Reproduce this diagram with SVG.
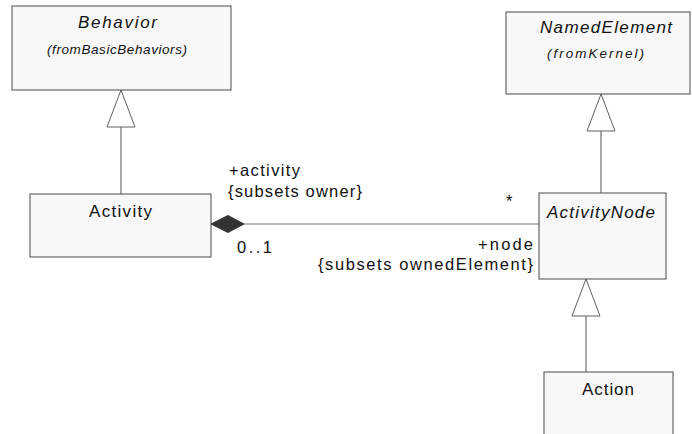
<svg xmlns="http://www.w3.org/2000/svg" width="692" height="434" viewBox="0 0 692 434">
<style>
.box{fill:#f8f8f8;stroke:#4a4a4a;stroke-width:1}
.ln{stroke:#707070;stroke-width:1.2;fill:none}
.tri{fill:#ffffff;stroke:#606060;stroke-width:1}
.t{font-family:"Liberation Sans",Arial,sans-serif;fill:#111;font-size:17px}
.n{font-family:"Liberation Sans",Arial,sans-serif;fill:#111;font-size:17px;font-style:italic}
.s{font-family:"Liberation Sans",Arial,sans-serif;fill:#111;font-size:13.5px;font-style:italic}
.l{font-family:"Liberation Sans",Arial,sans-serif;fill:#111;font-size:16.5px}
</style>
<rect width="692" height="434" fill="#ffffff"/>
<g id="connectors">
<line class="ln" x1="121" y1="127" x2="121" y2="194"/>
<polygon class="tri" points="121,90 107,127 135,127"/>
<line class="ln" x1="601" y1="131" x2="601" y2="193"/>
<polygon class="tri" points="601,94 587,131 615,131"/>
<line class="ln" x1="586" y1="316" x2="586" y2="372"/>
<polygon class="tri" points="586,279 572,316 600,316"/>
<line class="ln" x1="244" y1="224" x2="539" y2="224"/>
<polygon points="211,224 228,215.5 244,224 228,232.5" fill="#333333" stroke="#333333" stroke-width="1"/>
<text class="l" x="229" y="176" textLength="71" lengthAdjust="spacing">+activity</text>
<text class="l" x="228" y="197" textLength="134" lengthAdjust="spacing">{subsets owner}</text>
<text class="l" x="237" y="253" textLength="35" lengthAdjust="spacing">0..1</text>
<text class="l" x="506" y="207">*</text>
<text class="l" x="478" y="250" textLength="55" lengthAdjust="spacing">+node</text>
<text class="l" x="318" y="270" textLength="215" lengthAdjust="spacing">{subsets ownedElement}</text>
</g>
<g id="behavior">
<rect class="box" x="12" y="6" width="219" height="84"/>
<text class="n" x="78" y="28" textLength="79" lengthAdjust="spacing">Behavior</text>
<text class="s" x="47" y="54" textLength="140" lengthAdjust="spacing">(fromBasicBehaviors)</text>
</g>
<g id="namedelement">
<rect class="box" x="506" y="12" width="184" height="82"/>
<text class="n" x="540" y="33" textLength="132" lengthAdjust="spacing">NamedElement</text>
<text class="s" x="547" y="58" textLength="97" lengthAdjust="spacing">(fromKernel)</text>
</g>
<g id="activity">
<rect class="box" x="30" y="194" width="181" height="63"/>
<text class="t" x="89" y="217" textLength="63" lengthAdjust="spacing">Activity</text>
</g>
<g id="activitynode">
<rect class="box" x="539" y="193" width="127" height="86"/>
<text class="n" x="547" y="218" textLength="108" lengthAdjust="spacing">ActivityNode</text>
</g>
<g id="action">
<rect class="box" x="544" y="372" width="129" height="70"/>
<text class="t" x="582" y="395" textLength="52" lengthAdjust="spacing">Action</text>
</g>
</svg>
